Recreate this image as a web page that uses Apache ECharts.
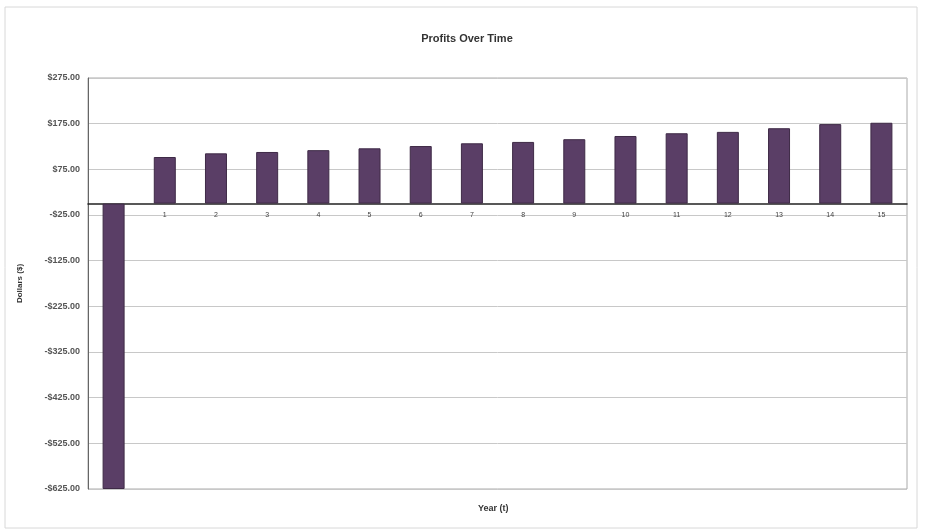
<!DOCTYPE html>
<html>
<head>
<meta charset="utf-8">
<script src="https://cdn.jsdelivr.net/npm/echarts@6/dist/echarts.min.js"></script>
<style>html,body{margin:0;padding:0;background:#fff}#c{width:931px;height:532px}</style>
</head>
<body>
<div id="c"></div>
<script>
var titleText = 'Profits Over Time';
var xAxisName = 'Year (t)';
var yAxisName = 'Dollars ($)';
var categories = ['0','1','2','3','4','5','6','7','8','9','10','11','12','13','14','15'];
var values = [-625, 102, 110, 113, 117, 121, 126, 132, 135, 141, 148, 154, 157, 165, 174, 177];
var yMin = -625, yMax = 275, yStep = 100;

var chart = echarts.init(document.getElementById('c'));
function fmt(v){
  var s = '$' + Math.abs(v).toFixed(2);
  return v < 0 ? '-' + s : s;
}
chart.setOption({
  animation: false,
  backgroundColor: '#fff',
  graphic: [{
    type: 'rect', shape: {x: 5, y: 7, width: 912, height: 521},
    style: {fill: 'none', stroke: '#d8d8d8', lineWidth: 1}, silent: true, z: -1
  }, {
    type: 'text', left: 478, top: 504,
    style: {text: xAxisName, font: 'bold 9px "Liberation Sans"', fill: '#333'}, silent: true
  }],
  title: {
    text: titleText, left: 462, top: 28, textAlign: 'center',
    textStyle: {fontFamily: 'Liberation Sans', fontSize: 11, fontWeight: 'bold', color: '#333'}
  },
  grid: {left: 88, right: 24, top: 78, bottom: 43, containLabel: false, outerBoundsMode: 'none',
    show: true, borderColor: '#aaa', borderWidth: 1, backgroundColor: '#fff'},
  xAxis: {
    type: 'category', data: categories, position: 'bottom', offset: 0,
    axisLine: {onZero: false, lineStyle: {color: '#222', width: 1.5}},
    axisTick: {show: false},
    axisLabel: {fontFamily: 'Liberation Sans', fontSize: 7, color: '#444', margin: 8},
    z: 1
  },
  yAxis: {
    type: 'value', min: yMin, max: yMax, interval: yStep,
    name: yAxisName, nameLocation: 'middle', nameGap: 64, nameRotate: 90,
    nameTextStyle: {fontFamily: 'Liberation Sans', fontSize: 8, fontWeight: 'bold', color: '#333'},
    axisLine: {show: true, lineStyle: {color: '#666', width: 1}},
    axisTick: {show: false},
    axisLabel: {formatter: fmt, fontFamily: 'Liberation Sans', fontSize: 9, fontWeight: 'bold', color: '#555', margin: 8},
    splitLine: {show: true, lineStyle: {color: '#c8c8c8', width: 1}}
  },
  series: [{
    type: 'bar', data: values, barWidth: 22,
    itemStyle: {color: '#5a3e66', borderColor: '#3e2a46', borderWidth: 1},
    z: 2
  }]
});
var zeroY = chart.convertToPixel({yAxisIndex: 0}, 0);
var botY = chart.convertToPixel({yAxisIndex: 0}, yMin);
chart.setOption({xAxis: {offset: -(botY - zeroY)}});
</script>
</body>
</html>
